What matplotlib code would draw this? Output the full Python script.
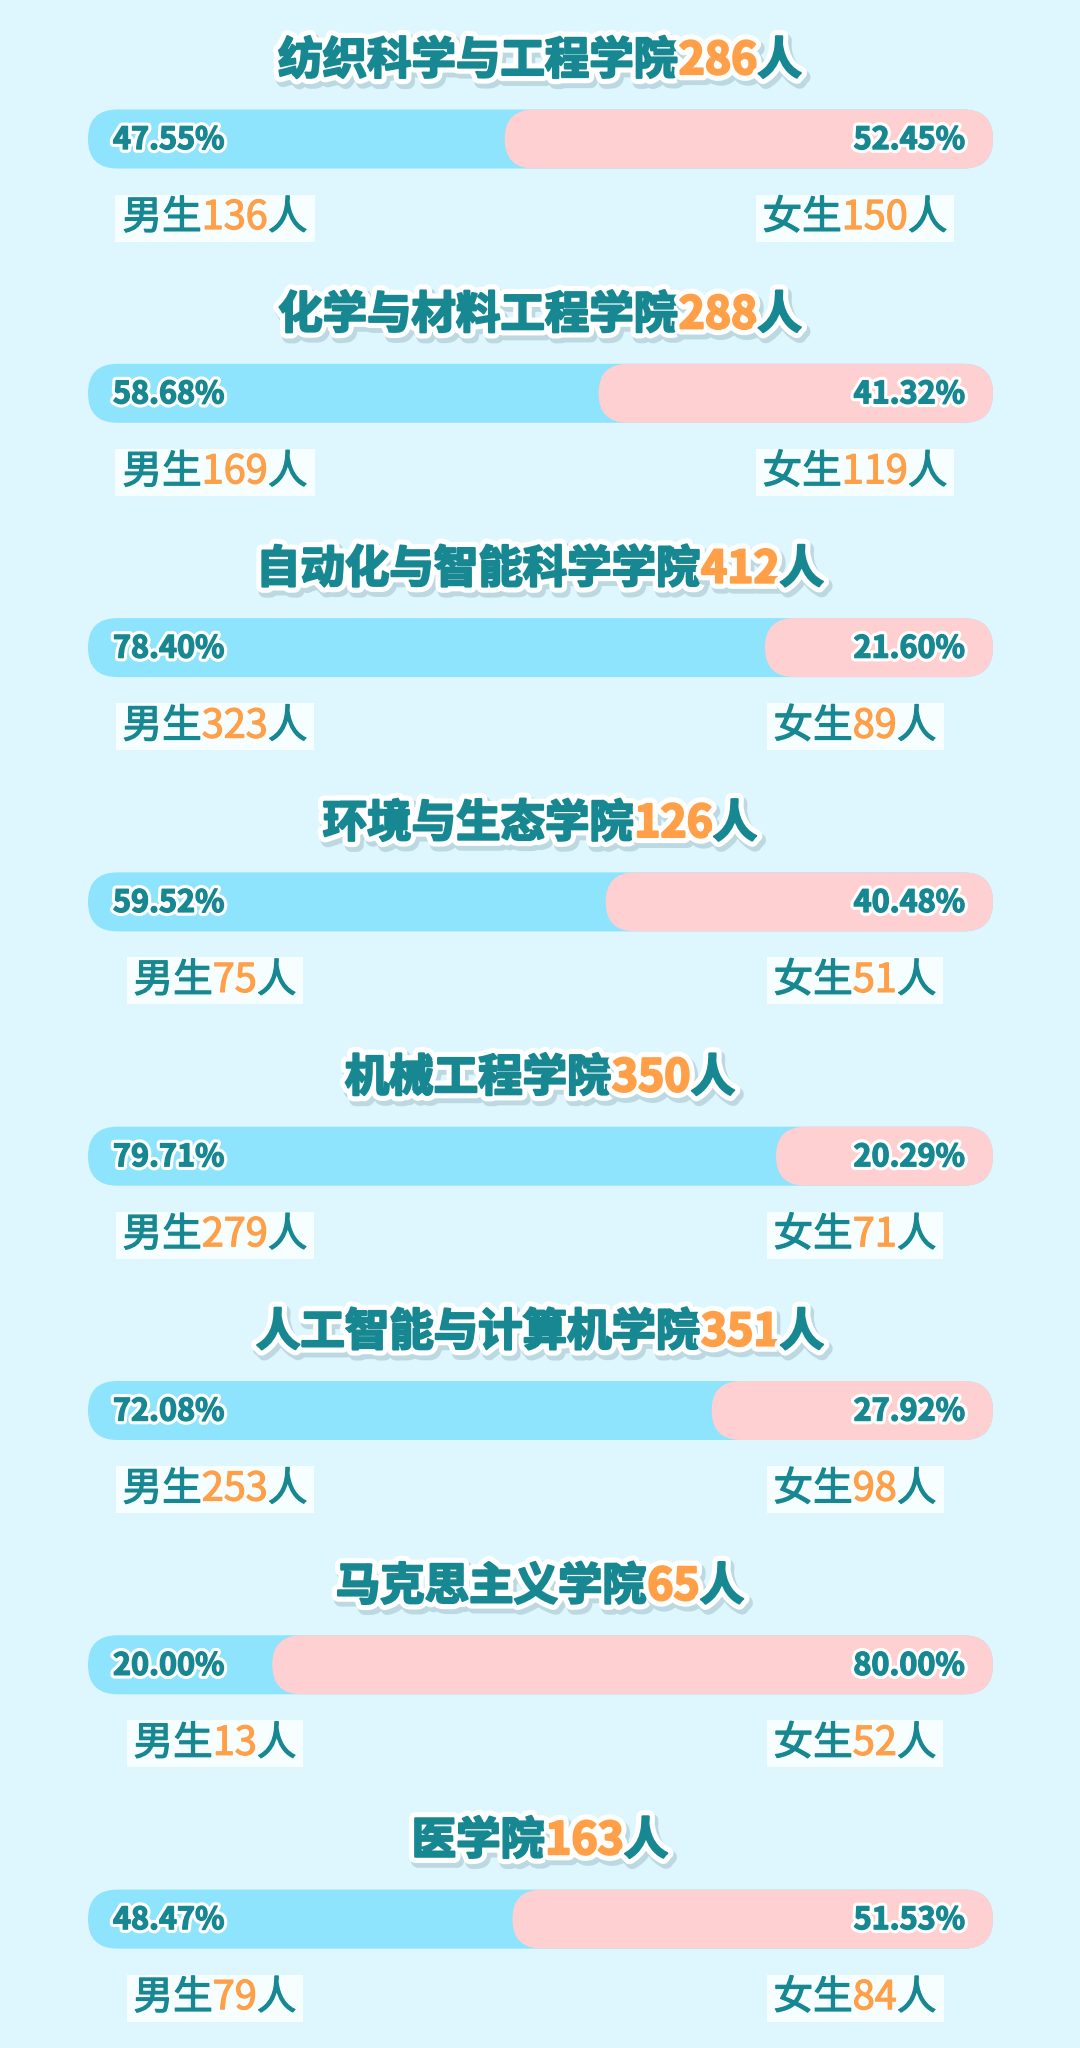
import matplotlib
matplotlib.use("Agg")
import matplotlib.pyplot as plt
import matplotlib.patheffects as pe
from matplotlib.patches import FancyBboxPatch, Rectangle

# ---------------- data ----------------
colleges = ['纺织科学与工程学院', '化学与材料工程学院', '自动化与智能科学学院', '环境与生态学院',
            '机械工程学院', '人工智能与计算机学院', '马克思主义学院', '医学院']
totals = [286, 288, 412, 126, 350, 351, 65, 163]
male = [136, 169, 323, 75, 279, 253, 13, 79]
female = [150, 119, 89, 51, 71, 98, 52, 84]
male_pct = [47.55, 58.68, 78.40, 59.52, 79.71, 72.08, 20.00, 48.47]
female_pct = [52.45, 41.32, 21.60, 40.48, 20.29, 27.92, 80.00, 51.53]

# ---------------- style ----------------
BG = '#def6fe'
BLUE = '#8ee3fd'
PINK = '#ffd0d1'
TEAL = '#178892'
ORANGE = '#ffa048'
BOXC = '#f6feff'
CJK = ['Noto Sans CJK SC', 'DejaVu Sans']

W, H = 1080, 2048
DPI = 100
PX = 8.437            # pixels per percent unit
X0 = 103.5            # pixel position of 0 %
fig = plt.figure(figsize=(W / DPI, H / DPI), dpi=DPI, facecolor=BG)
ax = fig.add_axes([0, 0, 1, 1])
ax.set_facecolor(BG)
ax.set_xlim(-X0 / PX, (W - X0) / PX)
ax.set_ylim(H, 0)
ax.axis('off')

track_l = (88 - X0) / PX
track_r = (993 - X0) / PX
bar_h = 59
rad = bar_h / 2 / PX
STEP = 254.3
renderer = fig.canvas.get_renderer()


def title_fx(c):
    return [pe.Stroke(linewidth=10, foreground='#bcd9e2', offset=(2, -3)),
            pe.Stroke(linewidth=9, foreground='white'),
            pe.Stroke(linewidth=1.6, foreground=c), pe.Normal()]


def label_fx(c):
    return [pe.Stroke(linewidth=0.9, foreground=c), pe.Normal()]


pct_fx = [pe.Stroke(linewidth=5.5, foreground='white'),
          pe.Stroke(linewidth=1.0, foreground=TEAL), pe.Normal()]


def multi_text(parts, cx, cy, size, weight, fx, box=None):
    objs = []
    widths = []
    for s, c in parts:
        t = ax.text(0, cy, s, color=c, fontsize=size, fontweight=weight,
                    family=CJK, ha='left', va='center', zorder=6,
                    path_effects=fx(c))
        objs.append(t)
        widths.append(t.get_window_extent(renderer).width / PX)
    total = sum(widths)
    x = cx - total / 2
    for t, w in zip(objs, widths):
        t.set_x(x)
        x += w
    if box is not None:
        padx, hh = box
        ax.add_patch(Rectangle((cx - total / 2 - padx / PX, cy - hh / 2),
                               total + 2 * padx / PX, hh,
                               facecolor=BOXC, edgecolor='none', zorder=5))


for i in range(len(colleges)):
    ty = 61 + i * STEP
    by = 139 + i * STEP
    ly = 218 + i * STEP

    multi_text([(colleges[i], TEAL), (str(totals[i]), ORANGE), ('人', TEAL)],
               (540 - X0) / PX, ty, 32, 'black', title_fx)

    # track (male, blue)
    ax.add_patch(FancyBboxPatch((track_l, by - bar_h / 2), track_r - track_l, bar_h,
                                boxstyle=f'round,pad=0,rounding_size={rad}',
                                mutation_aspect=PX, facecolor=BLUE,
                                edgecolor='none', zorder=2))
    # female part (pink)
    ax.add_patch(FancyBboxPatch((male_pct[i], by - bar_h / 2), track_r - male_pct[i], bar_h,
                                boxstyle=f'round,pad=0,rounding_size={rad}',
                                mutation_aspect=PX, facecolor=PINK,
                                edgecolor='none', zorder=3))

    ax.text((113 - X0) / PX, by + 1, f'{male_pct[i]:.2f}%', color=TEAL, fontsize=22,
            fontweight='bold', family=CJK, ha='left', va='center', zorder=6,
            path_effects=pct_fx)
    ax.text((965 - X0) / PX, by + 1, f'{female_pct[i]:.2f}%', color=TEAL, fontsize=22,
            fontweight='bold', family=CJK, ha='right', va='center', zorder=6,
            path_effects=pct_fx)

    multi_text([('男生', TEAL), (str(male[i]), ORANGE), ('人', TEAL)],
               (215 - X0) / PX, ly, 28.5, 'normal', label_fx, box=(7, 47))
    multi_text([('女生', TEAL), (str(female[i]), ORANGE), ('人', TEAL)],
               (855 - X0) / PX, ly, 28.5, 'normal', label_fx, box=(7, 47))

fig.savefig('out.png', dpi=DPI, facecolor=BG)
